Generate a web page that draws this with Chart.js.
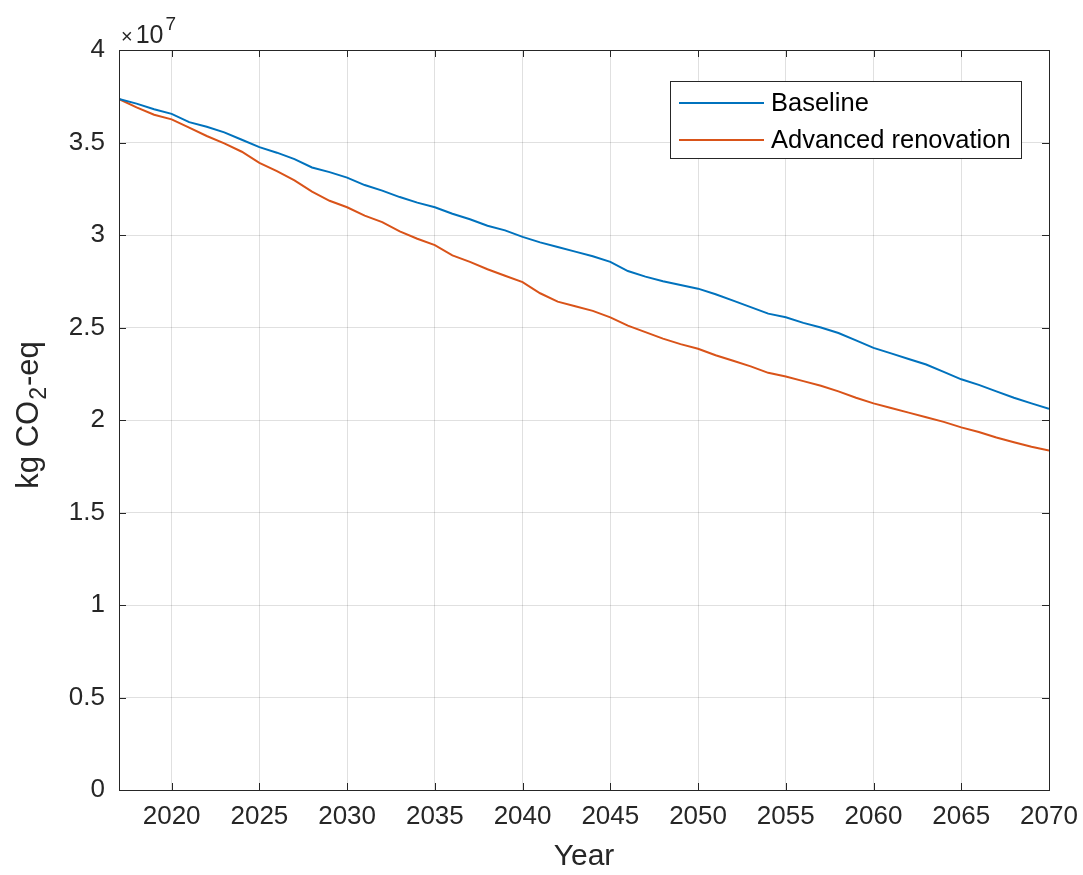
<!DOCTYPE html>
<html>
<head>
<meta charset="utf-8">
<script src="https://cdn.jsdelivr.net/npm/chart.js@4"></script>
<style>
html,body{margin:0;padding:0;background:#fff;}
#wrap{width:1083px;height:875px;position:relative;}
</style>
</head>
<body>
<div id="wrap"><canvas id="c" width="1083" height="875"></canvas></div>
<script>
const years = [];
for (let y = 2017; y <= 2070; y++) years.push(y);

// values in units of 1e7 kg CO2-eq
const baseline = [3.735,3.71,3.68,3.655,3.61,3.585,3.555,3.515,3.475,3.445,
  3.41,3.365,3.34,3.31,3.27,3.24,3.205,3.175,3.15,3.115,
  3.085,3.05,3.025,2.99,2.96,2.935,2.91,2.885,2.855,2.805,
  2.775,2.75,2.73,2.71,2.68,2.645,2.61,2.575,2.555,2.525,
  2.5,2.47,2.43,2.39,2.36,2.33,2.3,2.26,2.22,2.19,
  2.155,2.12,2.09,2.06];
const advanced = [3.735,3.69,3.65,3.625,3.58,3.535,3.495,3.45,3.39,3.345,
  3.295,3.235,3.185,3.15,3.105,3.07,3.02,2.98,2.945,2.89,
  2.855,2.815,2.78,2.745,2.685,2.64,2.615,2.59,2.555,2.51,
  2.475,2.44,2.41,2.385,2.35,2.32,2.29,2.255,2.235,2.21,
  2.185,2.155,2.12,2.09,2.065,2.04,2.015,1.99,1.96,1.935,
  1.905,1.88,1.855,1.835];
const SCALE = 1e7;
const seriesNames = ['Baseline', 'Advanced renovation'];
const xTicks = [2020,2025,2030,2035,2040,2045,2050,2055,2060,2065,2070];
const yTicks = [0,0.5,1,1.5,2,2.5,3,3.5,4];

const FONT = '"Liberation Sans", Arial, Helvetica, sans-serif';
const TXT = '#262626';
const AX = '#262626';

function pts(arr){ return years.map((y,i)=>({x:y, y:arr[i]*SCALE})); }

const frame = {
  id:'frame',
  afterDatasetsDraw(chart){
    const {ctx, chartArea:a, scales} = chart;
    ctx.save();
    ctx.strokeStyle = AX; ctx.lineWidth = 1;
    ctx.strokeRect(Math.round(a.left)+0.5, Math.round(a.top)+0.5, Math.round(a.right-a.left), Math.round(a.bottom-a.top));
    const tl = 7;
    ctx.beginPath();
    xTicks.forEach(v=>{
      const x = Math.round(scales.x.getPixelForValue(v))+0.5;
      ctx.moveTo(x,a.bottom); ctx.lineTo(x,a.bottom-tl);
      ctx.moveTo(x,a.top); ctx.lineTo(x,a.top+tl);
    });
    yTicks.forEach(v=>{
      const y = Math.round(scales.y.getPixelForValue(v*SCALE))+0.5;
      ctx.moveTo(a.left,y); ctx.lineTo(a.left+tl,y);
      ctx.moveTo(a.right,y); ctx.lineTo(a.right-tl,y);
    });
    ctx.stroke();

    // exponent label
    ctx.fillStyle = TXT;
    ctx.textBaseline = 'alphabetic';
    ctx.textAlign = 'left';
    ctx.font = '20px ' + FONT;
    ctx.fillText('\u00d7', a.left+2, a.top-7);
    const wx = ctx.measureText('\u00d7').width;
    ctx.font = '25px ' + FONT;
    ctx.fillText('10', a.left+2+wx+3, a.top-7);
    const w = ctx.measureText('10').width;
    ctx.font = '19px ' + FONT;
    ctx.fillText('7', a.left+2+wx+3+w+2, a.top-20);

    // y axis title with subscript
    ctx.save();
    ctx.translate(38, 415);
    ctx.rotate(-Math.PI/2);
    const p1 = 'kg CO', p2 = '2', p3 = '-eq';
    ctx.font = '31px ' + FONT;
    const w1 = ctx.measureText(p1).width, w3 = ctx.measureText(p3).width;
    ctx.font = '23px ' + FONT;
    const w2 = ctx.measureText(p2).width;
    const total = w1+w2+w3+2;
    let x0 = -total/2;
    ctx.textAlign='left';
    ctx.font = '31px ' + FONT;
    ctx.fillText(p1, x0, 0);
    ctx.font = '23px ' + FONT;
    ctx.fillText(p2, x0+w1+1, 8);
    ctx.font = '31px ' + FONT;
    ctx.fillText(p3, x0+w1+w2+2, 0);
    ctx.restore();

    // legend
    const lx = 670, ly = 81, lw = 351, lh = 77;
    ctx.fillStyle = '#fff';
    ctx.fillRect(lx, ly, lw, lh);
    ctx.strokeStyle = AX; ctx.lineWidth = 1;
    ctx.strokeRect(lx+0.5, ly+0.5, lw, lh);
    ctx.font = '25.5px ' + FONT;
    ctx.textBaseline = 'middle';
    chart.data.datasets.forEach((ds,i)=>{
      const yy = ly + 22 + i*37;
      ctx.strokeStyle = ds.borderColor; ctx.lineWidth = 2;
      ctx.beginPath(); ctx.moveTo(679, yy); ctx.lineTo(764, yy); ctx.stroke();
      ctx.fillStyle = '#000';
      ctx.fillText(ds.label, 771, yy+1);
    });
    ctx.restore();
  }
};

new Chart(document.getElementById('c'), {
  type:'line',
  data:{
    datasets:[
      {label:seriesNames[0], data:pts(baseline), borderColor:'#0072BD', borderWidth:2, pointRadius:0, tension:0},
      {label:seriesNames[1], data:pts(advanced), borderColor:'#D95319', borderWidth:2, pointRadius:0, tension:0}
    ]
  },
  options:{
    responsive:false, animation:false,
    layout:{padding:{left:0, top:50, right:34, bottom:0}},
    plugins:{legend:{display:false}, tooltip:{enabled:false}},
    scales:{
      x:{
        type:'linear', min:2017, max:2070,
        afterBuildTicks(s){ s.ticks = xTicks.map(v=>({value:v})); },
        afterFit(s){ s.height = 85; s.paddingRight = 0; s.paddingLeft = 0; },
        grid:{color:'rgba(0,0,0,0.12)', drawTicks:false},
        border:{display:false},
        ticks:{padding:11, color:TXT, font:{family:FONT, size:26}, maxRotation:0, callback:v=>String(v)},
        title:{display:true, text:'Year', color:TXT, font:{family:FONT, size:30}, padding:{top:0,bottom:0}}
      },
      y:{
        min:0, max:4*SCALE,
        afterBuildTicks(s){ s.ticks = yTicks.map(v=>({value:v*SCALE})); },
        afterFit(s){ s.width = 119; s.paddingTop = 0; s.paddingBottom = 0; },
        grid:{color:'rgba(0,0,0,0.12)', drawTicks:false},
        border:{display:false},
        ticks:{padding:14, color:TXT, font:{family:FONT, size:26}, callback:v=>String(v/SCALE)}
      }
    }
  },
  plugins:[frame]
});
</script>
</body>
</html>
